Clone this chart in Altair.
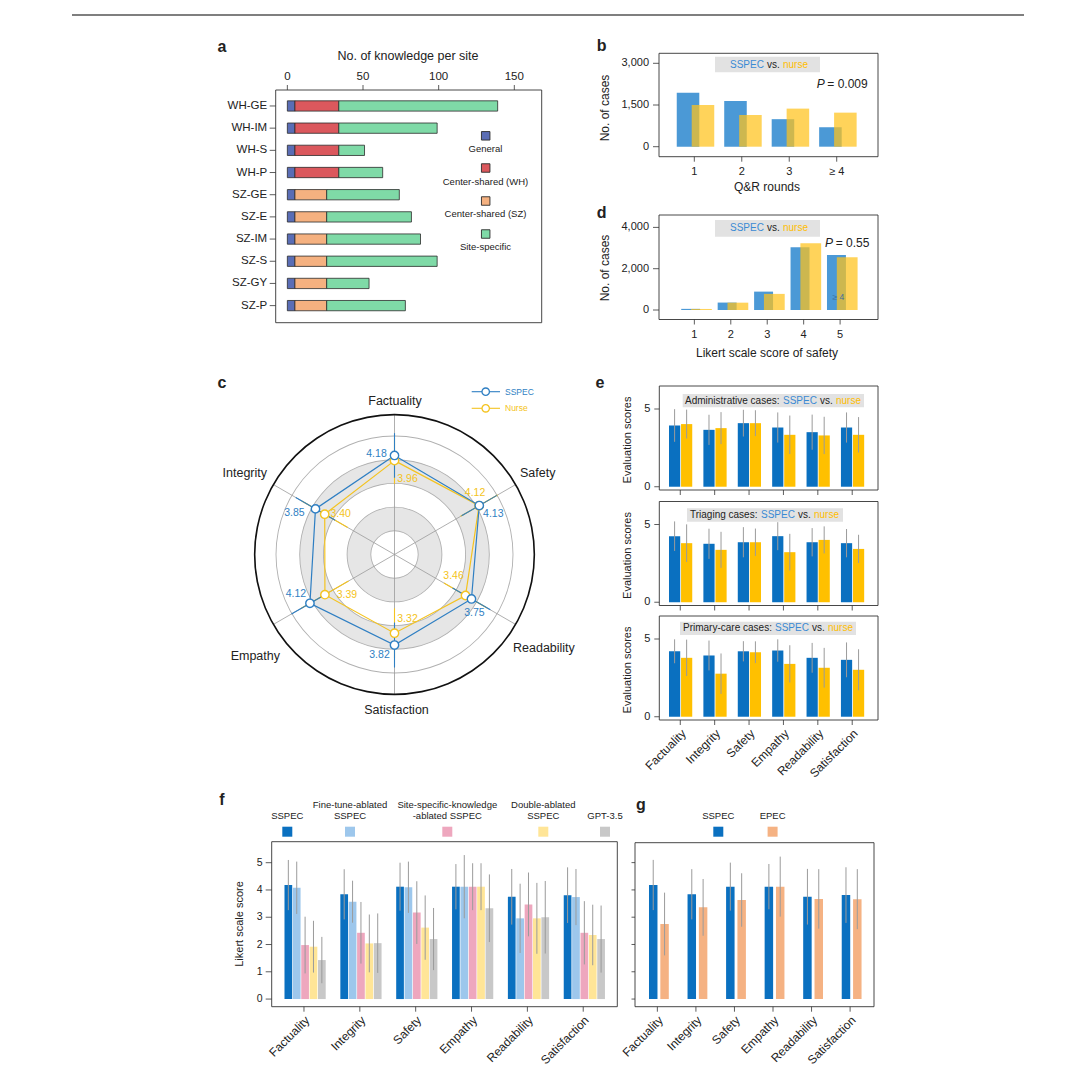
import math
import altair as alt
import pandas as pd

FONT = "Liberation Sans"
W, H = 1064, 1060
INK = "#222222"
TICK = "#333333"

# ------------------------------------------------------------------ data
sites = ["WH-GE", "WH-IM", "WH-S", "WH-P", "SZ-GE", "SZ-E", "SZ-IM", "SZ-S", "SZ-GY", "SZ-P"]
know_general = [5, 5, 5, 5, 5, 5, 5, 5, 5, 5]
know_center_wh = [29, 29, 29, 29, 0, 0, 0, 0, 0, 0]
know_center_sz = [0, 0, 0, 0, 21, 21, 21, 21, 21, 21]
know_site_specific = [105, 65, 17, 29, 48, 56, 62, 73, 28, 52]
know_groups = ["General", "Center-shared (WH)", "Center-shared (SZ)", "Site-specific"]
know_ticks = [0, 50, 100, 150]

qr_rounds = ["1", "2", "3", "≥ 4"]
qr_sspec = [1940, 1640, 990, 700]
qr_nurse = [1500, 1140, 1370, 1225]
qr_ticks = [0, 1500, 3000]
qr_p = "0.009"

safety_scores = ["1", "2", "3", "4", "5"]
safety_sspec = [55, 360, 890, 3035, 2660]
safety_nurse = [50, 355, 780, 3230, 2550]
safety_ticks = [0, 2000, 4000]
safety_p = "0.55"

metrics = ["Factuality", "Integrity", "Safety", "Empathy", "Readability", "Satisfaction"]

radar_axes = ["Factuality", "Safety", "Readability", "Satisfaction", "Empathy", "Integrity"]
radar_sspec = [4.18, 4.13, 3.75, 3.82, 4.12, 3.85]
radar_nurse = [3.96, 4.12, 3.46, 3.32, 3.39, 3.40]
radar_sspec_sd = [0.94, 0.86, 0.92, 0.95, 0.90, 0.96]
radar_nurse_sd = [0.98, 0.90, 1.05, 1.05, 1.15, 1.12]
radar_rings = [1, 2, 3, 4, 5]

admin_sspec = [3.94, 3.66, 4.09, 3.81, 3.51, 3.81]
admin_sspec_sd = [1.05, 0.97, 0.86, 0.97, 1.13, 0.97]
admin_nurse = [4.03, 3.77, 4.09, 3.34, 3.30, 3.34]
admin_nurse_sd = [0.93, 1.03, 0.83, 1.24, 1.20, 1.14]
triage_sspec = [4.25, 3.76, 3.86, 4.25, 3.86, 3.80]
triage_sspec_sd = [0.95, 0.97, 0.97, 0.90, 0.91, 0.91]
triage_nurse = [3.80, 3.37, 3.86, 3.22, 4.01, 3.43]
triage_nurse_sd = [1.21, 1.16, 0.88, 1.18, 0.87, 0.91]
primary_sspec = [4.21, 3.94, 4.21, 4.26, 3.79, 3.66]
primary_sspec_sd = [0.77, 0.96, 0.65, 0.72, 0.96, 1.12]
primary_nurse = [3.79, 2.77, 4.15, 3.40, 3.15, 3.02]
primary_nurse_sd = [1.17, 1.30, 0.70, 1.20, 1.28, 1.32]

abl_models = ["SSPEC", "Fine-tune-ablated SSPEC", "Site-specific-knowledge-ablated SSPEC",
              "Double-ablated SSPEC", "GPT-3.5"]
abl_legend_lines = [["SSPEC"], ["Fine-tune-ablated", "SSPEC"], ["Site-specific-knowledge", "-ablated SSPEC"],
                    ["Double-ablated", "SSPEC"], ["GPT-3.5"]]
abl_sspec = [4.18, 3.84, 4.12, 4.12, 3.75, 3.81]
abl_sspec_sd = [0.92, 0.92, 0.88, 0.83, 1.02, 1.02]
abl_ft = [4.08, 3.57, 4.10, 4.12, 2.96, 3.74]
abl_ft_sd = [0.96, 0.77, 0.94, 1.16, 1.27, 1.03]
abl_sk = [1.98, 2.43, 3.17, 4.12, 3.47, 2.43]
abl_sk_sd = [1.04, 1.13, 1.15, 0.86, 1.17, 1.16]
abl_da = [1.92, 2.04, 2.62, 4.12, 2.96, 2.35]
abl_da_sd = [0.95, 1.06, 1.18, 0.86, 1.30, 1.11]
abl_gpt = [1.43, 2.05, 2.20, 3.33, 3.00, 2.20]
abl_gpt_sd = [0.85, 1.09, 1.14, 1.24, 1.33, 1.23]
likert_ticks = [0, 1, 2, 3, 4, 5]

epec_models = ["SSPEC", "EPEC"]
epec = [2.75, 3.36, 3.63, 4.12, 3.67, 3.66]
epec_sd = [1.15, 1.04, 0.98, 1.10, 1.09, 1.10]

# ------------------------------------------------------------------ style
C_KNOW = ["#5a6db5", "#db585d", "#f5b180", "#7fdaa7"]
C_B_BLUE, C_B_YEL = "#4b99d6", "#ffc21a"
C_SSPEC, C_NURSE = "#0a70c0", "#ffc000"
C_TXT_BLUE, C_TXT_YEL = "#3a8ad4", "#ffbd00"
C_R_BLUE, C_R_YEL = "#2f7fc3", "#f4c320"
C_ABL = ["#0a70c0", "#9dc7ec", "#eea7be", "#ffe597", "#c8c8c8"]
C_EPEC = "#f5b283"
C_ERR = "#9b9b9b"


def PX(v):
    return round(v - 8, 2)


def PY(v):
    return round(v - 8, 2)


ONE = pd.DataFrame({"k": [0]})


def lin(domain, rng):
    return alt.Scale(domain=domain, range=rng, nice=False, zero=False)


def panel(L, R, T, B, xd, yd, yflip=False):
    xs = lin(xd, [PX(L), PX(R)])
    ys = lin(yd, [PY(T), PY(B)]) if yflip else lin(yd, [PY(B), PY(T)])
    return dict(xs=xs, ys=ys, xd=xd, yd=yd, kx=(R - L) / (xd[1] - xd[0]), ky=(B - T) / (yd[1] - yd[0]))


def Xd(p, v):
    return alt.X(datum=v, type="quantitative", scale=p["xs"], axis=None)


def Yd(p, v):
    return alt.Y(datum=v, type="quantitative", scale=p["ys"], axis=None)


def Xf(p, f):
    return alt.X(f, type="quantitative", scale=p["xs"], axis=None)


def Yf(p, f):
    return alt.Y(f, type="quantitative", scale=p["ys"], axis=None)


def txt(text, x, y, size=10, color=INK, align="center", baseline="middle", weight="normal", style="normal",
        angle=0):
    m = dict(text=text, font=FONT, fontSize=size, color=color, align=align, baseline=baseline,
             fontWeight=weight, fontStyle=style)
    if angle:
        m["angle"] = angle
    return alt.Chart(ONE).mark_text(**m).encode(x=alt.value(PX(x)), y=alt.value(PY(y)))


def box(x1, x2, y1, y2, color="#e2e2e2"):
    return alt.Chart(ONE).mark_rect(color=color).encode(
        x=alt.value(PX(x1)), x2=alt.value(PX(x2)), y=alt.value(PY(y1)), y2=alt.value(PY(y2)))


def swatch(x, y, color, size=9, stroke=None):
    m = dict(shape="square", filled=True, color=color, size=size * size, opacity=1)
    if stroke:
        m.update(stroke=stroke, strokeWidth=0.9)
    return alt.Chart(ONE).mark_point(**m).encode(x=alt.value(PX(x)), y=alt.value(PY(y)))


def frame(p):
    xd, yd = p["xd"], p["yd"]
    return alt.Chart(ONE).mark_rect(filled=False, color=TICK, strokeWidth=0.9).encode(
        x=Xd(p, xd[0]), x2=alt.X2(datum=xd[1]), y=Yd(p, yd[0]), y2=alt.Y2(datum=yd[1]))


def ticks_left(p, values, labels=None, tick=5, pad=3, size=10.5):
    df = pd.DataFrame({"v": values, "lab": labels if labels else [""] * len(values)})
    x0 = p["xd"][0]
    out = [alt.Chart(df).mark_rule(color=TICK, strokeWidth=0.8).encode(
        x=Xd(p, x0 - tick / p["kx"]), x2=alt.X2(datum=x0), y=Yf(p, "v"))]
    if labels:
        out.append(alt.Chart(df).mark_text(font=FONT, fontSize=size, color=INK, align="right",
                                           baseline="middle").encode(
            x=Xd(p, x0 - (tick + pad) / p["kx"]), y=Yf(p, "v"), text="lab:N"))
    return out


def ticks_bottom(p, values, labels=None, tick=5, pad=3, size=11, rotate=False):
    df = pd.DataFrame({"v": values, "lab": labels if labels else [""] * len(values)})
    y0 = p["yd"][0]
    out = [alt.Chart(df).mark_rule(color=TICK, strokeWidth=0.8).encode(
        x=Xf(p, "v"), y=Yd(p, y0), y2=alt.Y2(datum=y0 - tick / p["ky"]))]
    if labels:
        m = dict(font=FONT, fontSize=size, color=INK, baseline="top")
        if rotate:
            m.update(angle=315, align="right")
        else:
            m.update(align="center")
        out.append(alt.Chart(df).mark_text(**m).encode(
            x=Xf(p, "v"), y=Yd(p, y0 - (tick + pad) / p["ky"]), text="lab:N"))
    return out


def ticks_top_flipped(p, values, labels, tick=5, pad=3, size=11.5):
    df = pd.DataFrame({"v": values, "lab": labels})
    y0 = p["yd"][0]
    return [alt.Chart(df).mark_rule(color=TICK, strokeWidth=0.8).encode(
        x=Xf(p, "v"), y=Yd(p, y0 - tick / p["ky"]), y2=alt.Y2(datum=y0)),
        alt.Chart(df).mark_text(font=FONT, fontSize=size, color=INK, align="center", baseline="bottom").encode(
            x=Xf(p, "v"), y=Yd(p, y0 - (tick + pad) / p["ky"]), text="lab:N")]


def long_df(series, means, sds):
    rows = []
    for s, m, sd in zip(series, means, sds):
        for i, (a, b) in enumerate(zip(m, sd)):
            rows.append({"pos": i + 1, "series": s, "mean": a, "sd": b})
    return pd.DataFrame(rows)


def off_expr(series, centers):
    expr = str(centers[-1])
    for s, c in zip(series[-2::-1], centers[-2::-1]):
        expr = f"(datum.series === '{s}' ? {c} : {expr})"
    return expr


def grouped(df, series, colors, centers, half, p):
    base = alt.Chart(df).transform_calculate(
        xc="datum.pos + " + off_expr(series, centers)
    ).transform_calculate(
        xa=f"datum.xc - {half}", xb=f"datum.xc + {half}",
        lo="datum.mean - datum.sd", hi="datum.mean + datum.sd")
    bars = base.mark_rect().encode(
        x=Xf(p, "xa"), x2="xb:Q", y=Yf(p, "mean"), y2=alt.Y2(datum=0),
        color=alt.Color("series:N", scale=alt.Scale(domain=series, range=colors), legend=None))
    errs = base.mark_rule(color=C_ERR, strokeWidth=1).encode(
        x=Xf(p, "xc"), y=Yf(p, "lo"), y2="hi:Q")
    return [bars, errs]


layers = []

# header rule
layers.append(alt.Chart(ONE).mark_rule(color="#555555", strokeWidth=1.3).encode(
    x=alt.value(PX(72)), x2=alt.value(PX(1024)), y=alt.value(PY(15))))

# ------------------------------------------------------------------ panel a
rows = []
for i, s in enumerate(sites):
    acc = 0
    for g, vals in zip(know_groups, [know_general, know_center_wh, know_center_sz, know_site_specific]):
        v = vals[i]
        if v:
            rows.append({"site": s, "idx": i, "group": g, "start": acc, "end": acc + v})
            acc += v
df_a = pd.DataFrame(rows)
pa = panel(275.7, 541.7, 90, 322.7, [-7.7, 168.1], [-0.72, 9.77], yflip=True)
a_bars = alt.Chart(df_a).transform_calculate(
    y0="datum.idx - 0.232", y1="datum.idx + 0.232"
).mark_rect(stroke="#2b2b2b", strokeWidth=0.8).encode(
    x=Xf(pa, "start"), x2="end:Q", y=Yf(pa, "y0"), y2="y1:Q",
    color=alt.Color("group:N", scale=alt.Scale(domain=know_groups, range=C_KNOW), legend=None))
panel_a = [a_bars, frame(pa)]
panel_a += ticks_left(pa, list(range(len(sites))), sites, tick=6, pad=2.5, size=11.5)
panel_a += ticks_top_flipped(pa, know_ticks, [str(t) for t in know_ticks], tick=5, pad=3.5, size=11.5)
panel_a.append(txt("No. of knowledge per site", 408, 56, size=12.5))
for g, c, sy, ty in zip(know_groups, C_KNOW, [135.8, 168, 201, 234], [149.3, 181.7, 214.3, 247.3]):
    panel_a.append(swatch(485.7, sy, c, 8.5, stroke="#2b2b2b"))
    panel_a.append(txt(g, 485.5, ty, size=9.5))
layers.append(alt.layer(*panel_a))
layers.append(txt("a", 222, 47, size=16, weight="bold"))


# ------------------------------------------------------------------ panels b, d
def overlap_panel(s_vals, n_vals, labels, p, s_off, n_off, yticks):
    n = len(labels)
    pos = list(range(1, n + 1))
    ds = pd.DataFrame({"pos": pos, "value": s_vals})
    dn = pd.DataFrame({"pos": pos, "value": n_vals})
    bs = alt.Chart(ds).transform_calculate(
        xa=f"datum.pos + ({s_off[0]})", xb=f"datum.pos + ({s_off[1]})"
    ).mark_rect(color=C_B_BLUE).encode(x=Xf(p, "xa"), x2="xb:Q", y=Yf(p, "value"), y2=alt.Y2(datum=0))
    bn = alt.Chart(dn).transform_calculate(
        xa=f"datum.pos + ({n_off[0]})", xb=f"datum.pos + ({n_off[1]})"
    ).mark_rect(color=C_B_YEL, opacity=0.72).encode(x=Xf(p, "xa"), x2="xb:Q", y=Yf(p, "value"),
                                                    y2=alt.Y2(datum=0))
    out = [bs, bn, frame(p)]
    out += ticks_left(p, yticks, [f"{t:,}" for t in yticks], tick=6, pad=4, size=11)
    out += ticks_bottom(p, pos, labels, tick=5, pad=4, size=11)
    return out


def vs_title(x_s, x_v, x_n, y, size=10):
    return [txt("SSPEC", x_s, y, size=size, color=C_TXT_BLUE, align="left"),
            txt("vs.", x_v, y, size=size, align="left"),
            txt("nurse", x_n, y, size=size, color=C_TXT_YEL, align="left")]


pb = panel(659, 878, 53.3, 156.7, [0.256, 4.87], [-360, 3360])
panel_b = overlap_panel(qr_sspec, qr_nurse, qr_rounds, pb, [-0.37, 0.105], [-0.055, 0.42], qr_ticks)
panel_b += [box(715, 820, 56.7, 72.3)] + vs_title(730, 767, 783, 64.5, size=10)
panel_b += [txt("P", 816.7, 84.3, size=12, align="left", style="italic"),
            txt("= " + qr_p, 827.3, 84.3, size=12, align="left"),
            txt("No. of cases", 605, 108, size=12, angle=270),
            txt("Q&R rounds", 767, 187, size=12)]
layers.append(alt.layer(*panel_b))
layers.append(txt("b", 601.7, 46, size=16, weight="bold"))

pd_ = panel(659, 878, 215, 319.5, [0.03, 6.04], [-460, 4600])
panel_d = overlap_panel(safety_sspec, safety_nurse, safety_scores, pd_, [-0.36, 0.16], [-0.09, 0.48],
                        safety_ticks)
panel_d += [box(715, 820, 220, 236.7)] + vs_title(730, 767, 783, 228.4, size=10)
panel_d += [txt("P", 825, 243.3, size=12, align="left", style="italic"),
            txt("= " + safety_p, 835.7, 243.3, size=12, align="left"),
            txt("≥ 4", 838.3, 296.7, size=8.5, color="#3d6f9e"),
            txt("No. of cases", 605, 268, size=12, angle=270),
            txt("Likert scale score of safety", 767, 353, size=12)]
layers.append(alt.layer(*panel_d))
layers.append(txt("d", 601.7, 213, size=16, weight="bold"))

# ------------------------------------------------------------------ panel c (radar)
CX, CY = 394.5, 554.5
K = 23.7
RO = 5.9
RPX = RO * K
r_xs = lin([-RO, RO], [PX(CX - RPX), PX(CX + RPX)])
r_ys = lin([-RO, RO], [PY(CY + RPX), PY(CY - RPX)])
r_rs = alt.Scale(type="linear", domain=[0, RO + 1], range=[0, (RO + 1) * K], zero=True, nice=False)
TWO_PI = 2 * math.pi
ctr = dict(x=alt.value(PX(CX)), y=alt.value(PY(CY)))


def annulus(df, inner, outer, color):
    return alt.Chart(df).transform_calculate(ri=inner, ro=outer).mark_arc(
        theta=0, theta2=TWO_PI, color=color).encode(
        radius=alt.Radius("ro:Q", scale=r_rs), radius2="ri:Q", **ctr)


ring_df = pd.DataFrame({"ring": radar_rings})
bands = annulus(ring_df.iloc[[0, 2]], "datum.ring", "datum.ring + 1", "#e6e6e6")
rings = annulus(ring_df, f"datum.ring - {0.45 / K}", f"datum.ring + {0.45 / K}", "#b0b0b0")
outer = annulus(pd.DataFrame({"ring": [RO]}), f"datum.ring - {0.8 / K}", f"datum.ring + {0.8 / K}", "#111111")
spokes = alt.Chart(pd.DataFrame({"i": [0, 1, 2]})).transform_calculate(
    sx=f"{RO} * sin(datum.i * PI / 3)", sy=f"{RO} * cos(datum.i * PI / 3)"
).transform_calculate(ex="-datum.sx", ey="-datum.sy").mark_rule(color="#9a9a9a", strokeWidth=0.8).encode(
    x=alt.X("sx:Q", scale=r_xs, axis=None), y=alt.Y("sy:Q", scale=r_ys, axis=None), x2="ex:Q", y2="ey:Q")

rows = []
for s, vals, sds in [("SSPEC", radar_sspec, radar_sspec_sd), ("Nurse", radar_nurse, radar_nurse_sd)]:
    for i, (v, sd) in enumerate(zip(vals, sds)):
        rows.append({"series": s, "i": i, "axis": radar_axes[i], "v": v, "sd": sd})
df_r = pd.DataFrame(rows)
ANG = "(datum.i * PI / 3)"
r_base = alt.Chart(df_r).transform_calculate(
    px=f"datum.v * sin{ANG}", py=f"datum.v * cos{ANG}",
    e0x=f"(datum.v - datum.sd) * sin{ANG}", e0y=f"(datum.v - datum.sd) * cos{ANG}",
    e1x=f"(datum.v + datum.sd) * sin{ANG}", e1y=f"(datum.v + datum.sd) * cos{ANG}")

# value-label offsets in pixels for each spoke (styling only)
LABEL_DX = {"SSPEC": [-18, 14, 3, -15, -14, -21], "Nurse": [13, -4, -12, 13, 22, 16]}
LABEL_DY = {"SSPEC": [-1, 8, 14, 10, -9, 4], "Nurse": [18, -13, -20, -14, 0, 0]}
R_COL = {"SSPEC": C_R_BLUE, "Nurse": C_R_YEL}

radar_lines, radar_errs, radar_pts, radar_lbls = [], [], [], []
for s in ["Nurse", "SSPEC"]:
    b = r_base.transform_filter(f"datum.series === '{s}'")
    c = R_COL[s]
    radar_lines.append(b.mark_line(interpolate="linear-closed", color=c, strokeWidth=1.2).encode(
        x=alt.X("px:Q", scale=r_xs, axis=None), y=alt.Y("py:Q", scale=r_ys, axis=None), order="i:Q"))
    radar_errs.append(b.mark_rule(color=c, strokeWidth=1.1).encode(
        x=alt.X("e0x:Q", scale=r_xs, axis=None), y=alt.Y("e0y:Q", scale=r_ys, axis=None),
        x2="e1x:Q", y2="e1y:Q"))
    radar_pts.append(b.mark_point(shape="circle", filled=True, fill="white", stroke=c, strokeWidth=1.4,
                                  size=70, opacity=1).encode(
        x=alt.X("px:Q", scale=r_xs, axis=None), y=alt.Y("py:Q", scale=r_ys, axis=None)))
    radar_lbls.append(b.transform_calculate(
        tx=f"datum.px + {LABEL_DX[s]}[datum.i] / {K}", ty=f"datum.py - {LABEL_DY[s]}[datum.i] / {K}"
    ).mark_text(font=FONT, fontSize=10.5, color=c).encode(
        x=alt.X("tx:Q", scale=r_xs, axis=None), y=alt.Y("ty:Q", scale=r_ys, axis=None),
        text=alt.Text("v:Q", format=".2f")))

panel_c = [bands, rings, spokes, outer] + radar_lines + radar_errs + radar_pts + radar_lbls
DIM_POS = {"Factuality": (395, 400.5, "center"), "Safety": (520, 473, "left"),
           "Readability": (513, 648, "left"), "Satisfaction": (396.5, 710, "center"),
           "Empathy": (280, 656, "right"), "Integrity": (267, 473, "right")}
for d in radar_axes:
    x, y, al = DIM_POS[d]
    panel_c.append(txt(d, x, y, size=12.5, align=al))
for s, y in [("SSPEC", 391.7), ("Nurse", 408.3)]:
    c = R_COL[s]
    panel_c.append(alt.Chart(ONE).mark_rule(color=c, strokeWidth=1.1).encode(
        x=alt.value(PX(471.7)), x2=alt.value(PX(500)), y=alt.value(PY(y))))
    panel_c.append(alt.Chart(ONE).mark_point(shape="circle", filled=True, fill="white", stroke=c,
                                             strokeWidth=1.3, size=55, opacity=1).encode(
        x=alt.value(PX(485.7)), y=alt.value(PY(y))))
    panel_c.append(txt(s, 505, y, size=8.5, color=c, align="left"))
layers.append(alt.layer(*panel_c))
layers.append(txt("c", 222, 383, size=16, weight="bold"))

# ------------------------------------------------------------------ panel e
E_L, E_R = 659.3, 878
E_ROWS = [(386, 490), (501.5, 605.5), (616, 720)]
e_xd, e_yd = [0.39, 6.75], [-0.21, 6.48]
e_sets = [(admin_sspec, admin_sspec_sd, admin_nurse, admin_nurse_sd),
          (triage_sspec, triage_sspec_sd, triage_nurse, triage_nurse_sd),
          (primary_sspec, primary_sspec_sd, primary_nurse, primary_nurse_sd)]
e_case_titles = ["Administrative cases:", "Triaging cases:", "Primary-care cases:"]
E_TITLE_STYLE = [((682.7, 864, 394, 407.3), (685, 783, 820, 836), 400.8),
                 ((687, 843, 508.3, 521.7), (690, 761, 798, 814), 515.0),
                 ((680, 856, 621.7, 635), (683, 775, 812, 828), 628.4)]
for k, ((t, bt), vals, ct, (bx, xs_, ty)) in enumerate(zip(E_ROWS, e_sets, e_case_titles, E_TITLE_STYLE)):
    pe_ = panel(E_L, E_R, t, bt, e_xd, e_yd)
    df_e = long_df(["SSPEC", "Nurse"], [vals[0], vals[2]], [vals[1], vals[3]])
    pe = grouped(df_e, ["SSPEC", "Nurse"], [C_SSPEC, C_NURSE], [-0.165, 0.185], 0.163, pe_)
    pe += [frame(pe_), box(*bx)]
    pe += ticks_left(pe_, [0, 5], ["0", "5"], tick=5, pad=4, size=11)
    pe += ticks_bottom(pe_, [1, 2, 3, 4, 5, 6], metrics if k == 2 else None, tick=5, pad=3, size=12,
                       rotate=True)
    pe += [txt(ct, xs_[0], ty, size=10, align="left")] + vs_title(xs_[1], xs_[2], xs_[3], ty, size=10)
    pe.append(txt("Evaluation scores", 628.3, (t + bt) / 2 + 2, size=11, angle=270))
    layers.append(alt.layer(*pe))
layers.append(txt("e", 600, 383, size=16, weight="bold"))

# ------------------------------------------------------------------ panel f
pf = panel(271.7, 617.3, 841.7, 1006.7, [0.422, 6.61], [-0.28, 5.77])
df_f = long_df(abl_models, [abl_sspec, abl_ft, abl_sk, abl_da, abl_gpt],
               [abl_sspec_sd, abl_ft_sd, abl_sk_sd, abl_da_sd, abl_gpt_sd])
panel_f = grouped(df_f, abl_models, C_ABL, [-0.28, -0.13, 0.02, 0.17, 0.32], 0.069, pf)
panel_f.append(frame(pf))
panel_f += ticks_left(pf, likert_ticks, [str(t) for t in likert_ticks], tick=6, pad=3, size=10.5)
panel_f += ticks_bottom(pf, [1, 2, 3, 4, 5, 6], metrics, tick=5, pad=3, size=12, rotate=True)
panel_f.append(txt("Likert scale score", 240, 924, size=11, angle=270))
for lines, c, x in zip(abl_legend_lines, C_ABL, [287.3, 350, 447.3, 543.3, 605]):
    ys_ = [816] if len(lines) == 1 else [805, 816]
    for ln, y in zip(lines, ys_):
        panel_f.append(txt(ln, x, y, size=9.5))
    panel_f.append(swatch(x, 831.7, c, 10))
layers.append(alt.layer(*panel_f))
layers.append(txt("f", 222, 800, size=16, weight="bold"))

# ------------------------------------------------------------------ panel g
pg = panel(635, 874, 842.7, 1006.7, [0.42, 6.62], [-0.28, 5.73])
df_g = long_df(epec_models, [abl_sspec, epec], [abl_sspec_sd, epec_sd])
panel_g = grouped(df_g, epec_models, [C_SSPEC, C_EPEC], [-0.107, 0.187], 0.11, pg)
panel_g.append(frame(pg))
panel_g += ticks_left(pg, likert_ticks, None, tick=3.5)
panel_g += ticks_bottom(pg, [1, 2, 3, 4, 5, 6], metrics, tick=5, pad=3, size=12, rotate=True)
for m, c, x in zip(epec_models, [C_SSPEC, C_EPEC], [718.3, 772.6]):
    panel_g.append(txt(m, x, 816, size=9.5))
    panel_g.append(swatch(x, 831.7, c, 10))
layers.append(alt.layer(*panel_g))
layers.append(txt("g", 641, 805, size=16, weight="bold"))

chart = alt.layer(*layers).resolve_scale(
    x="independent", y="independent", color="independent"
).properties(width=W, height=H, padding=0).configure_view(strokeWidth=0)

chart.save("out.html", embed_options={"renderer": "svg", "actions": False})
